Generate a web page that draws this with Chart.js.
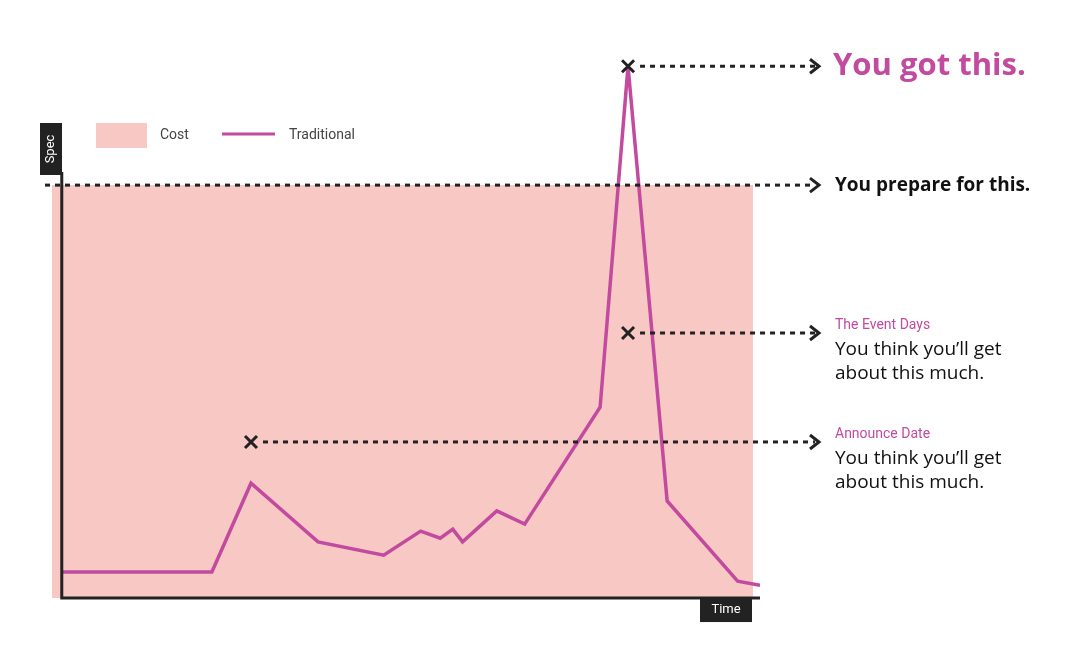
<!DOCTYPE html>
<html><head><meta charset="utf-8">
<script src="https://cdn.jsdelivr.net/npm/chart.js@4"></script>
<style>body{margin:0;background:#fff}#wrap{width:1083px;height:648px}</style>
</head><body><div id="wrap"><canvas id="c"></canvas></div>
<script>
const timeX = [0, 21.5, 27.1, 36.7, 46.1, 51.4, 54.2, 56.0, 57.4, 62.3, 66.3, 77.1, 81.1, 86.7, 96.8, 100];
const traditional = [6.3, 6.3, 27.8, 13.6, 10.4, 16.2, 14.5, 16.7, 13.6, 21.1, 17.9, 46.2, 128.8, 23.5, 4.1, 3.1];
const costX = [-1.4, 99];
const costLevel = [100, 100];
const marks = [
  { x: 27.1, y: 37.8, label: 'Announce Date', lines: ['You think you\u2019ll get', 'about this much.'] },
  { x: 81.1, y: 64.2, label: 'The Event Days', lines: ['You think you\u2019ll get', 'about this much.'] },
  { x: 81.1, y: 128.8, big: 'You got this.' }
];
const MAG = '#c24a9f';

const annot = {
  id: 'annot',
  afterDatasetsDraw(chart) {
    const { ctx, scales: { x, y } } = chart;
    const x0 = x.getPixelForValue(0), y0 = y.getPixelForValue(0);
    ctx.save();
    // axes
    ctx.strokeStyle = '#222'; ctx.lineWidth = 3;
    ctx.beginPath(); ctx.moveTo(x0, 172); ctx.lineTo(x0, y0); ctx.lineTo(x.getPixelForValue(100), y0); ctx.stroke();
    ctx.fillStyle = '#222';
    ctx.fillRect(40, 123, 22, 52);
    ctx.fillRect(700, y0, 52, 24);
    ctx.fillStyle = '#fff'; ctx.font = '13px Roboto, sans-serif';
    ctx.textAlign = 'center'; ctx.textBaseline = 'middle';
    ctx.fillText('Time', 726, y0 + 12);
    ctx.save(); ctx.translate(51, 149); ctx.rotate(-Math.PI / 2); ctx.fillText('Spec', 0, 0); ctx.restore();
    // legend
    ctx.fillStyle = '#f8c8c4'; ctx.fillRect(96, 123, 51, 25);
    ctx.strokeStyle = MAG; ctx.lineWidth = 3;
    ctx.beginPath(); ctx.moveTo(222, 134); ctx.lineTo(275, 134); ctx.stroke();
    ctx.fillStyle = '#444'; ctx.textAlign = 'left'; ctx.font = '14px Roboto, sans-serif';
    ctx.fillText('Cost', 160, 135); ctx.fillText('Traditional', 289, 135);
    // dashed arrows
    const arrow = (sx, sy) => {
      ctx.strokeStyle = '#222'; ctx.lineWidth = 3; ctx.setLineDash([5, 5]);
      ctx.beginPath(); ctx.moveTo(sx, sy); ctx.lineTo(815, sy); ctx.stroke();
      ctx.setLineDash([]);
      ctx.beginPath(); ctx.moveTo(810, sy - 7); ctx.lineTo(819, sy); ctx.lineTo(810, sy + 7); ctx.stroke();
    };
    arrow(45, y.getPixelForValue(100));
    ctx.fillStyle = '#111'; ctx.font = 'bold 19px "Open Sans", sans-serif';
    ctx.fillText('You prepare for this.', 835, y.getPixelForValue(100));
    marks.forEach(m => {
      const px = x.getPixelForValue(m.x), py = y.getPixelForValue(m.y);
      arrow(px + 12, py);
      ctx.strokeStyle = '#222'; ctx.lineWidth = 3;
      ctx.beginPath(); ctx.moveTo(px - 6, py - 6); ctx.lineTo(px + 6, py + 6);
      ctx.moveTo(px + 6, py - 6); ctx.lineTo(px - 6, py + 6); ctx.stroke();
      if (m.big) {
        ctx.fillStyle = MAG; ctx.font = 'bold 31px "Open Sans", sans-serif';
        ctx.fillText(m.big, 833, py);
      } else {
        ctx.fillStyle = MAG; ctx.font = '14px Roboto, sans-serif';
        ctx.fillText(m.label, 835, py - 7);
        ctx.fillStyle = '#111'; ctx.font = '19px "Open Sans", sans-serif';
        m.lines.forEach((t, i) => ctx.fillText(t, 835, py + 17 + i * 24));
      }
    });
    ctx.restore();
  }
};

new Chart(document.getElementById('c'), {
  type: 'line',
  data: {
    datasets: [
      { label: 'Traditional', data: timeX.map((v, i) => ({ x: v, y: traditional[i] })),
        borderColor: MAG, borderWidth: 3.5, pointRadius: 0, tension: 0, fill: false },
      { label: 'Cost', data: costX.map((v, i) => ({ x: v, y: costLevel[i] })),
        borderWidth: 0, pointRadius: 0, fill: 'origin', backgroundColor: '#f8c8c4' }
    ]
  },
  options: {
    responsive: true, maintainAspectRatio: false, animation: false,
    layout: { padding: { left: 52, right: 323, top: 60, bottom: 45 } },
    plugins: { legend: { display: false }, tooltip: { enabled: false } },
    scales: {
      x: { type: 'linear', min: -1.4, max: 100, display: false },
      y: { min: -1.2, max: 130.3, display: false }
    }
  },
  plugins: [annot]
});
</script></body></html>
